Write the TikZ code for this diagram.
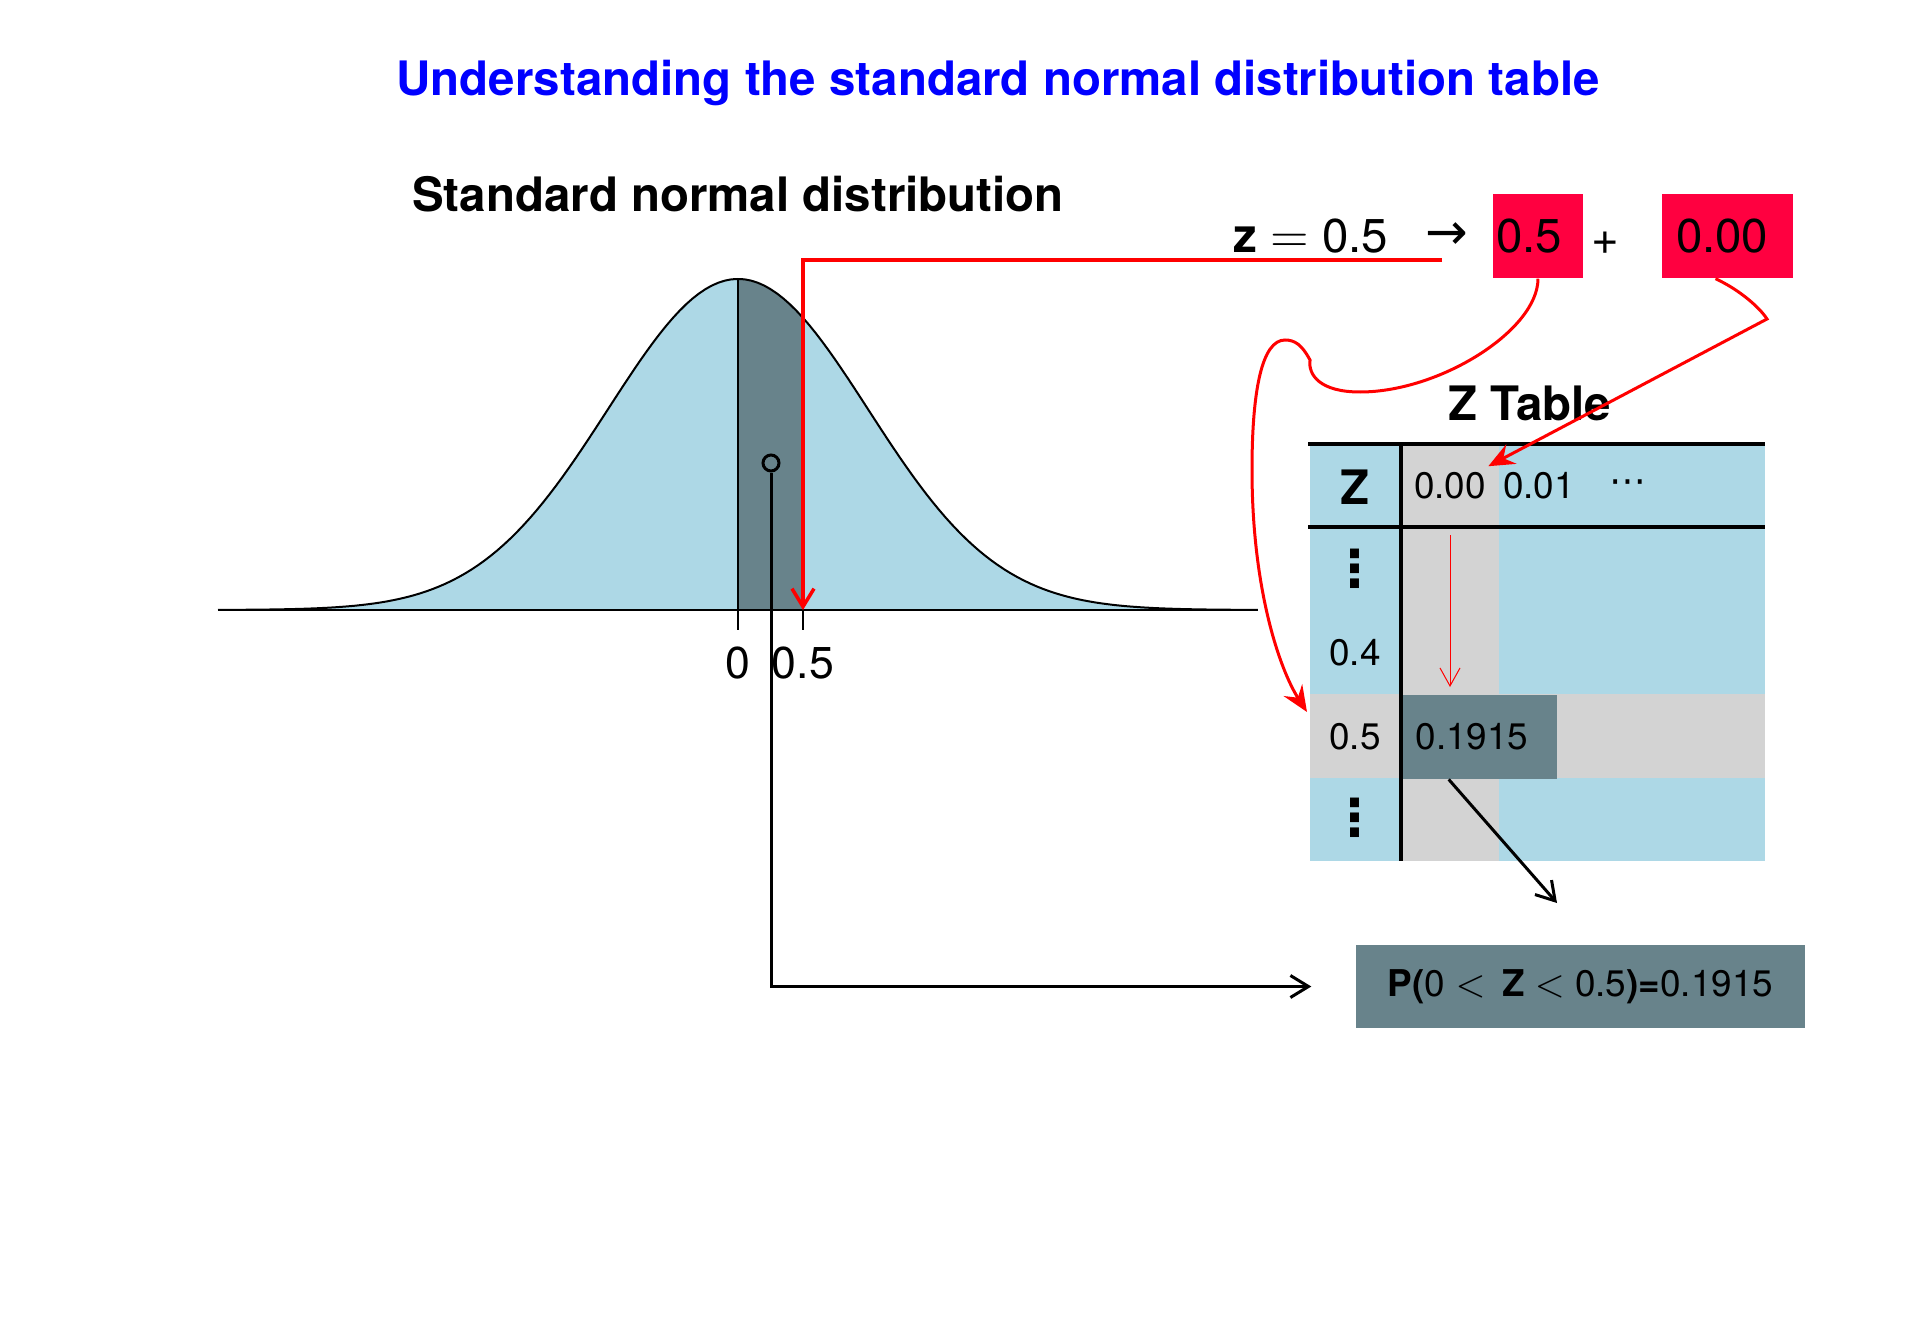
\documentclass[tikz,border=0pt]{standalone}
\usepackage{fontspec}
\setmainfont{TeX Gyre Heros}
\newfontfamily\symfont{DejaVu Sans}
\usetikzlibrary{arrows.meta,positioning,calc}
\definecolor{zblue}{HTML}{ADD8E6}
\definecolor{zdark}{HTML}{68838B}
\definecolor{zgray}{HTML}{D3D3D3}
\definecolor{zred}{HTML}{FF0040}

\begin{document}
\begin{tikzpicture}[x=0.1mm,y=-0.1mm,
  big/.style={font=\fontsize{13.5}{16}\selectfont},
  small/.style={font=\fontsize{10.5}{12}\selectfont},
  redbox/.style={big,fill=zred,minimum height=8.4mm,inner ysep=0pt,align=left},
  redline/.style={red,line width=0.3mm,-{Stealth[length=2.6mm,width=2.2mm,inset=0.9mm]}},
  blkarrow/.style={line width=0.3mm,-{Straight Barb[length=1.8mm,width=2.2mm]}}]
\useasboundingbox (0,0) rectangle (1920,1344);
% titles
\node[big,blue,anchor=base] (title) at (998,96) {\bfseries Understanding the standard normal distribution table};
\node[big,anchor=base] (dtitle) at (738,212) {\bfseries Standard normal distribution};
% density
\fill[zblue] (218,610) -- plot[domain=-4:4,samples=161] ({738+130*\x},{610-331*exp(-0.5*(\x)*(\x))}) -- (1258,610) -- cycle;
\fill[zdark] (738,610) -- plot[domain=0:0.5,samples=21] ({738+130*\x},{610-331*exp(-0.5*(\x)*(\x))}) -- (803,610) -- cycle;
\draw[line width=0.2mm] plot[domain=-4:4,samples=161] ({738+130*\x},{610-331*exp(-0.5*(\x)*(\x))});
\draw[line width=0.15mm] (738,610) -- (738,279);
\draw[line width=0.2mm] (218,610) -- (1258,610);
\foreach \x/\t/\n in {738/0/zero,803/0.5/half} {
  \draw[line width=0.15mm] (\x,610) -- (\x,630);
  \node[font=\fontsize{12.7}{14}\selectfont,anchor=base] (\n) at (\x,678) {\t};
}
\coordinate (tickhalf) at (803,610);
% z value split
\node[big,anchor=base west,inner sep=0pt] (zeq) at (1233,253) {\textbf{z} $=$ 0.5};
\node[font=\fontsize{14.5}{16}\symfont,inner sep=0pt] (zarr) at (1447,236) {→};
\node[redbox,text width=8.4mm,inner xsep=0.3mm] (boxa) at (1538,236) {0.5};
\node[big] (plus) at (1605,243) {+};
\node[redbox,text width=10.3mm,inner xsep=1.4mm] (boxb) at (1727.5,236) {0.00};
\coordinate (zstart) at (1442,260);
\draw[red,line width=0.35mm,-{Straight Barb[length=1.8mm,width=2.2mm]}] (zstart) -| (tickhalf);
% z table
\node[big,anchor=base] (ztitle) at (1530,420) {\bfseries Z Table};
\fill[zblue] (1310,444) rectangle (1765,861);
\fill[zgray] (1401,444) rectangle (1499,861);
\fill[zgray] (1310,694) rectangle (1765,778);
\node[fill=zdark,minimum width=15.5mm,minimum height=8.4mm,anchor=north west,inner sep=0pt] (cell) at (1401,694) {};
\draw[line width=0.4mm] (1308,444) -- (1765,444);
\draw[line width=0.4mm] (1308,527) -- (1765,527);
\draw[line width=0.4mm] (1401,444) -- (1401,861);
\node[font=\fontsize{13.5}{16}\selectfont\bfseries] (zh) at (1355,487.5) {Z};
\node[small] (c00) at (1450,486) {0.00};
\node[small] (c01) at (1539,486) {0.01};
\node[font=\fontsize{10.5}{12}\symfont] (cdots) at (1628,487) {⋯};
\foreach \y/\t/\n in {653/0.4/rb,737/0.5/rc} \node[small] (\n) at (1355,\y) {\t};
\foreach \y/\n in {569/ra,818/rd} \node[font=\fontsize{14.5}{16}\symfont\bfseries] (\n) at (1355,\y) {⋮};
\node[small] (val) at (1472,737) {0.1915};
% lookup arrows
\coordinate (rowin) at (1307,712);
\draw[redline] (boxa.south) .. controls (1538,330) and (1440,392) .. (1360,392) .. controls (1320,392) and (1308,375) .. (1310,360) .. controls (1302,345) and (1295,340) .. (1285,340) .. controls (1262,340) and (1252,390) .. (1252,470) .. controls (1252,590) and (1280,670) .. (rowin);
\coordinate (bend) at (1767,319);
\draw[redline] ([xshift=-1.2mm]boxb.south) .. controls (1740,290) and (1760,308) .. (bend) -- ([shift={(-1mm,-0.6mm)}]c00.north east);
\coordinate (colt) at (1450,535);
\coordinate (colb) at (1450,687);
\draw[red,line width=0.1mm,-{Straight Barb[length=1.8mm,width=2mm]}] (colt) -- (colb);
% result
\node[small,fill=zdark,minimum width=44.9mm,minimum height=8.3mm] (res) at (1580.5,986.5) {\textbf{P(}0 $<$\hspace{0.45em}\textbf{Z} $<$ 0.5\textbf{)=}0.1915};
\coordinate (resin) at (1557,903);
\draw[blkarrow] ([xshift=-3.05mm]cell.south) -- (resin);
\node[circle,draw,line width=0.3mm,minimum size=1.6mm,inner sep=0pt] (pt) at (771,463) {};
\draw[blkarrow] (pt.south) |- ([xshift=-4.4mm]res.west);
\end{tikzpicture}
\end{document}
